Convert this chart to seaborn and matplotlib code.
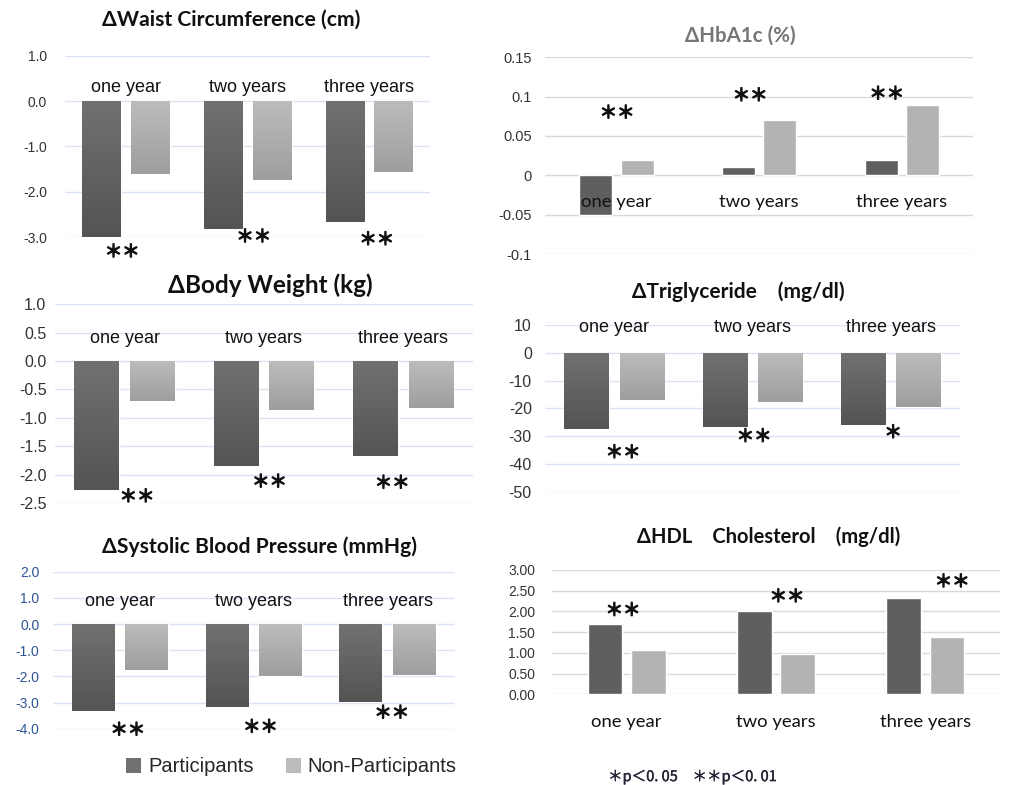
import numpy as np
import pandas as pd
import matplotlib
matplotlib.use("Agg")
import matplotlib.pyplot as plt
import matplotlib.patheffects as pe
from matplotlib.colors import LinearSegmentedColormap
from matplotlib.patches import Patch
from matplotlib.ticker import FuncFormatter
import seaborn as sns

sns.set_theme(style="white")
plt.rcParams['font.family'] = ['Liberation Sans', 'DejaVu Sans']
plt.rcParams['axes.unicode_minus'] = False

# ---------------- data ----------------
periods = ["one year", "two years", "three years"]
groups = ["Participants", "Non-Participants"]

waist_part = [-3.00, -2.83, -2.66]
waist_non = [-1.61, -1.74, -1.57]
waist_sig = ["＊＊", "＊＊", "＊＊"]

weight_part = [-2.27, -1.84, -1.67]
weight_non = [-0.70, -0.86, -0.82]
weight_sig = ["＊＊", "＊＊", "＊＊"]

sbp_part = [-3.32, -3.17, -2.98]
sbp_non = [-1.76, -1.98, -1.94]
sbp_sig = ["＊＊", "＊＊", "＊＊"]

hba1c_part = [-0.05, 0.01, 0.02]
hba1c_non = [0.02, 0.07, 0.09]
hba1c_sig = ["＊＊", "＊＊", "＊＊"]

tg_part = [-27.4, -26.7, -26.0]
tg_non = [-17.1, -17.8, -19.6]
tg_sig = ["＊＊", "＊＊", "＊"]

hdl_part = [1.69, 2.00, 2.33]
hdl_non = [1.08, 0.97, 1.38]
hdl_sig = ["＊＊", "＊＊", "＊＊"]

titles = ["ΔWaist Circumference (cm)", "ΔBody Weight (kg)",
          "ΔSystolic Blood Pressure (mmHg)", "ΔHbA1c (%)",
          "ΔTriglyceride\u3000(mg/dl)", "ΔHDL\u3000Cholesterol\u3000(mg/dl)"]
footnote = "＊p＜0. 05\u3000＊＊p＜0. 01"

DARK = "#5f5f5f"
LIGHT = "#b3b3b3"
GRAD = {DARK: ("#717171", "#545454"), LIGHT: ("#bcbcbc", "#9e9e9e")}
TITLE_FONT = ['Lato', 'DejaVu Sans', 'Noto Sans CJK JP']
STAR_FONT = ['Noto Sans CJK JP', 'DejaVu Sans']
STAR_FX = [pe.withStroke(linewidth=1.0, foreground="#111111")]

fig = plt.figure(figsize=(10.15, 7.85), dpi=100)


def make_df(part, non):
    return pd.DataFrame({
        "period": periods * 2,
        "group": [groups[0]] * 3 + [groups[1]] * 3,
        "value": list(part) + list(non),
    })


def panel(rect, part, non, ylim, step, fmt, grid_color, tick_color, tick_size,
          tick_pad, width, gap, gradient, cat_y, cat_font, cat_size,
          sig, sig_x, sig_y):
    ax = fig.add_axes(rect)
    df = make_df(part, non)
    sns.barplot(data=df, x="period", y="value", hue="group",
                palette=[DARK, LIGHT], saturation=1, errorbar=None,
                width=width, gap=gap, legend=False, ax=ax, zorder=2)
    if gradient:
        for p in list(ax.patches):
            fc = matplotlib.colors.to_hex(p.get_facecolor())
            key = DARK if fc == DARK else LIGHT
            cmap = LinearSegmentedColormap.from_list("g", GRAD[key])
            x0, y0 = p.get_x(), p.get_y()
            w, h = p.get_width(), p.get_height()
            extent = (x0, x0 + w, min(y0, y0 + h), max(y0, y0 + h))
            grad = np.linspace(0, 1, 64).reshape(-1, 1)
            im = ax.imshow(grad, extent=extent, origin="upper", cmap=cmap,
                           aspect="auto", zorder=2.1, interpolation="bilinear")
            im.set_clip_path(p)
    ax.set_xlim(-0.5, 2.5)
    ax.set_ylim(*ylim)
    ax.set_yticks(np.arange(ylim[0], ylim[1] + step / 2, step))
    ax.yaxis.set_major_formatter(FuncFormatter(fmt))
    for s in ax.spines.values():
        s.set_visible(False)
    ax.yaxis.grid(True, color=grid_color, lw=1.0)
    ax.xaxis.grid(False)
    ax.set_axisbelow(True)
    ax.tick_params(axis="y", left=False, length=0, pad=tick_pad,
                   labelsize=tick_size, labelcolor=tick_color)
    ax.tick_params(axis="x", bottom=False, labelbottom=False)
    ax.set_xlabel("")
    ax.set_ylabel("")
    for i, c in enumerate(periods):
        ax.text(i, cat_y, c, ha="center", va="center", fontsize=cat_size,
                family=cat_font, color="#111111", clip_on=False, zorder=3)
    for lab, sx, sy in zip(sig, sig_x, sig_y):
        ax.text(sx, sy, lab, ha="center", va="center", fontsize=12.5,
                family=STAR_FONT, color="#111111", path_effects=STAR_FX,
                clip_on=False, zorder=3)
    for t in ax.get_yticklabels():
        t.set_family(['Liberation Sans'])
    return ax


f1 = lambda v, p: f"{v:.1f}"
fg = lambda v, p: f"{v:g}"
fi = lambda v, p: f"{v:.0f}"
f2 = lambda v, p: f"{v:.2f}"

BLUEGRID = "#dae3f3"
GREYGRID = "#d9d9d9"
ARIAL = ['Liberation Sans']

# Waist
panel([0.064, 0.698, 0.360, 0.231], waist_part, waist_non, (-3, 1), 1, f1,
      BLUEGRID, "#333333", 10, 13, 0.8, 0.2, True, 0.31, ARIAL, 13,
      waist_sig, [-0.03, 1.05, 2.06], [-3.33, -3.0, -3.06])
# Body weight
panel([0.054, 0.359, 0.412, 0.2535], weight_part, weight_non, (-2.5, 1), 0.5, f1,
      BLUEGRID, "#333333", 11.5, 6, 0.8, 0.2, True, 0.40, ARIAL, 13,
      weight_sig, [0.09, 1.04, 1.92], [-2.39, -2.13, -2.15])
# SBP
panel([0.052, 0.0717, 0.396, 0.200], sbp_part, sbp_non, (-4, 2), 1, f1,
      BLUEGRID, "#2f5496", 10, 9.5, 0.8, 0.2, True, 0.85, ARIAL, 13,
      sbp_sig, [0.06, 1.05, 2.03], [-4.06, -3.95, -3.41])
# HbA1c
panel([0.537, 0.6764, 0.4217, 0.2506], hba1c_part, hba1c_non, (-0.1, 0.15), 0.05, fg,
      GREYGRID, "#333333", 10.5, 9.5, 0.58, 0.2, False, -0.034, TITLE_FONT, 13.3,
      hba1c_sig, [0.005, 0.937, 1.895], [0.079, 0.101, 0.103])
# Triglyceride
panel([0.537, 0.3736, 0.4089, 0.2124], tg_part, tg_non, (-50, 10), 10, fi,
      BLUEGRID, "#333333", 11.5, 9.5, 0.8, 0.2, True, 9.0, ARIAL, 13,
      tg_sig, [0.064, 1.011, 2.016], [-36.0, -30.2, -28.8])
# HDL
panel([0.5438, 0.1155, 0.4414, 0.1584], hdl_part, hdl_non, (0, 3), 0.5, f2,
      GREYGRID, "#333333", 10, 12, 0.58, 0.2, False, -0.66, TITLE_FONT, 13.3,
      hdl_sig, [-0.024, 1.074, 2.18], [2.02, 2.35, 2.71])

# titles
title_pos = [(0.2276, 0.9745, 15.2, "#111111"), (0.266, 0.637, 17.5, "#111111"),
             (0.256, 0.303, 15.2, "#111111"), (0.729, 0.955, 14.8, "#767676"),
             (0.727, 0.628, 15.0, "#111111"), (0.757, 0.316, 14.5, "#111111")]
for t, (x, y, s, c) in zip(titles, title_pos):
    fig.text(x, y, t, ha="center", va="center", fontsize=s, fontweight="bold",
             family=TITLE_FONT, color=c)

# legend
handles = [Patch(facecolor=GRAD[DARK][0], edgecolor="none"),
           Patch(facecolor=GRAD[LIGHT][0], edgecolor="none")]
fig.legend(handles, groups, loc="center", bbox_to_anchor=(0.287, 0.023),
           ncol=2, frameon=False, handlelength=0.75,
           handleheight=0.75, handletextpad=0.35, columnspacing=1.6,
           prop={'family': 'Liberation Sans', 'size': 14.5})

fig.text(0.599, 0.0102, footnote, ha="left", va="center", fontsize=10.5,
         family=STAR_FONT, color="#222233",
         path_effects=[pe.withStroke(linewidth=0.25, foreground="#222233")])

fig.savefig("out.png", dpi=100)
